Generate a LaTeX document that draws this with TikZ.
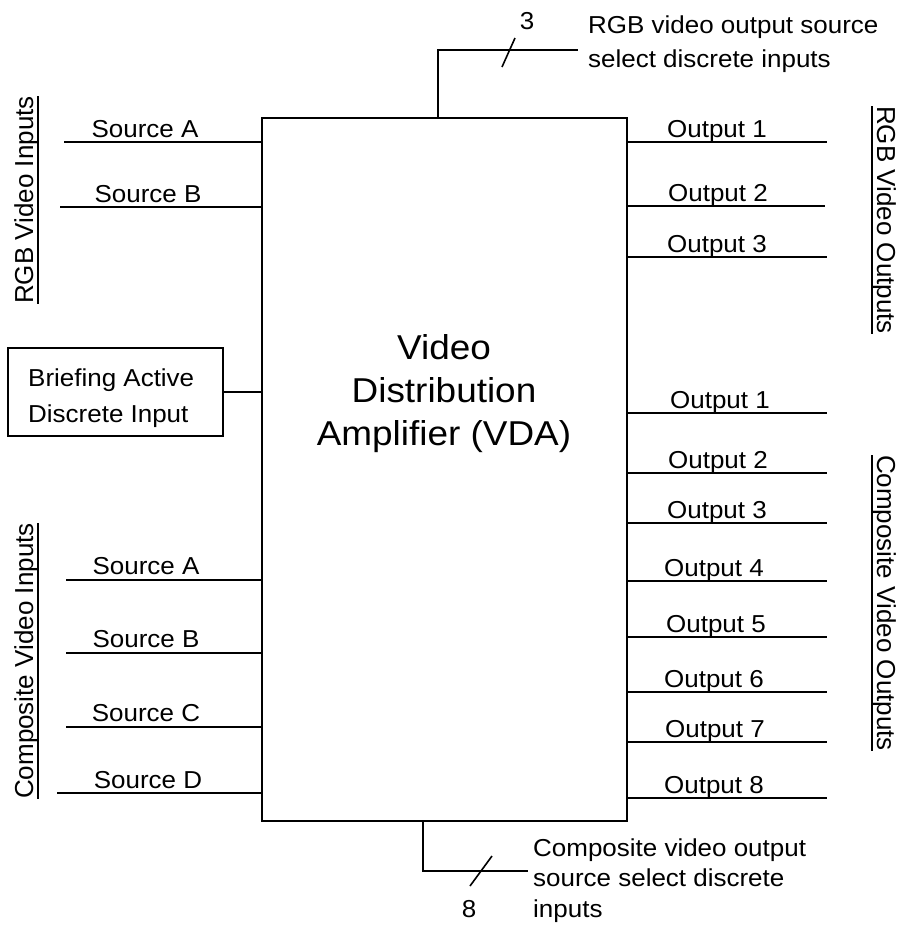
\documentclass[tikz,border=0pt]{standalone}
\usepackage{fontspec}
\setmainfont{Liberation Sans}
% text with a rule a little below its baseline
\newcommand\ulbox[1]{\setbox0=\hbox{#1}\rlap{\rule[-5.6pt]{\wd0}{1.4pt}}\box0}
\begin{document}
\begin{tikzpicture}[x=1pt,y=-1pt,
  wire/.style={line width=1.6pt},
  lbl/.style={font=\fontsize{24.5}{33}\selectfont, inner sep=0pt, xscale=1.06, anchor=base},
  vlbl/.style={font=\fontsize{26}{30}\selectfont, inner sep=0pt, anchor=base},
  biglbl/.style={font=\fontsize{34.5}{43}\selectfont, inner sep=0pt, xscale=1.07, anchor=base}]
\useasboundingbox (0,0) rectangle (900,930);

% amplifier body
\node[draw, line width=1.7pt, minimum width=365pt, minimum height=703pt, inner sep=0pt] (vda) at (444.5,469.5) {};
\node[biglbl] (vdalbl) at (444,359) {\begin{tabular}[t]{@{}c@{}}Video\\Distribution\\Amplifier (VDA)\end{tabular}};

% group titles
\node[vlbl, rotate=90] (rgbin) at (33,200) {\ulbox{RGB Video Inputs}};
\node[vlbl, rotate=90] (compin) at (33,661) {\ulbox{Composite Video Inputs}};
\node[vlbl, rotate=-90] (rgbout) at (877,220) {\ulbox{RGB Video Outputs}};
\node[vlbl, rotate=-90] (compout) at (877,603) {\ulbox{Composite Video Outputs}};

% RGB inputs
\coordinate (ria) at (64,142);
\coordinate (rib) at (60,207);
\draw[wire] (ria) -- (ria -| vda.west);
\draw[wire] (rib) -- (rib -| vda.west);
\node[lbl] (riat) at (145,137) {Source A};
\node[lbl] (ribt) at (148,202) {Source B};

% briefing discrete
\node[draw, line width=1.6pt, minimum width=215pt, minimum height=88pt, inner sep=0pt] (brief) at (115.5,392) {};
\node[lbl, anchor=base west, font=\fontsize{24.5}{36}\selectfont] (brieft) at (28,386) {\begin{tabular}[t]{@{}l@{}}Briefing Active\\Discrete Input\end{tabular}};
\draw[wire] (brief.east) -- (brief.east -| vda.west);

% composite inputs
\coordinate (cia) at (66,580);
\coordinate (cib) at (66,653);
\coordinate (cic) at (66,727);
\coordinate (cid) at (57,793);
\foreach \c in {cia,cib,cic,cid} \draw[wire] (\c) -- (\c -| vda.west);
\node[lbl] (ciat) at (146,574) {Source A};
\node[lbl] (cibt) at (146,647) {Source B};
\node[lbl] (cict) at (146,721) {Source C};
\node[lbl] (cidt) at (148,788) {Source D};

% RGB outputs
\coordinate (roa) at (827,142);
\coordinate (rob) at (825,206);
\coordinate (roc) at (827,257);
\foreach \c in {roa,rob,roc} \draw[wire] (\c -| vda.east) -- (\c);
\node[lbl] (roat) at (717,137) {Output 1};
\node[lbl] (robt) at (718,201) {Output 2};
\node[lbl] (roct) at (717,252) {Output 3};

% composite outputs
\foreach \n/\y/\tx in {1/413/720,2/473/718,3/523/717,4/581/714,5/637/716,6/692/714,7/742/715,8/798/714} {
  \coordinate (co\n) at (827,\y);
  \draw[wire] (co\n -| vda.east) -- (co\n);
  \node[lbl] (co\n t) at (\tx,\y-5) {Output \n};
}

% RGB output source select bus
\coordinate (tj) at (438,50);
\coordinate (tsel) at (578,50);
\draw[wire] (tj |- vda.north) -- (tj) -- (tsel);
\coordinate (ts1) at (502,67);
\coordinate (ts2) at (515,38);
\draw[wire] (ts1) -- (ts2);
\node[lbl] (tn) at (527,29) {3};
\node[lbl, anchor=base west, font=\fontsize{24.5}{34}\selectfont] (tselt) at (588,33) {\begin{tabular}[t]{@{}l@{}}RGB video output source\\select discrete inputs\end{tabular}};

% composite output source select bus
\coordinate (bj) at (423,871);
\coordinate (bsel) at (528,871);
\draw[wire] (bj |- vda.south) -- (bj) -- (bsel);
\coordinate (bs1) at (470,886);
\coordinate (bs2) at (492,856);
\draw[wire] (bs1) -- (bs2);
\node[lbl] (bn) at (469,917) {8};
\node[lbl, anchor=base west, font=\fontsize{24.5}{30.5}\selectfont] (bselt) at (533,856) {\begin{tabular}[t]{@{}l@{}}Composite video output\\source select discrete\\inputs\end{tabular}};
\end{tikzpicture}
\end{document}
